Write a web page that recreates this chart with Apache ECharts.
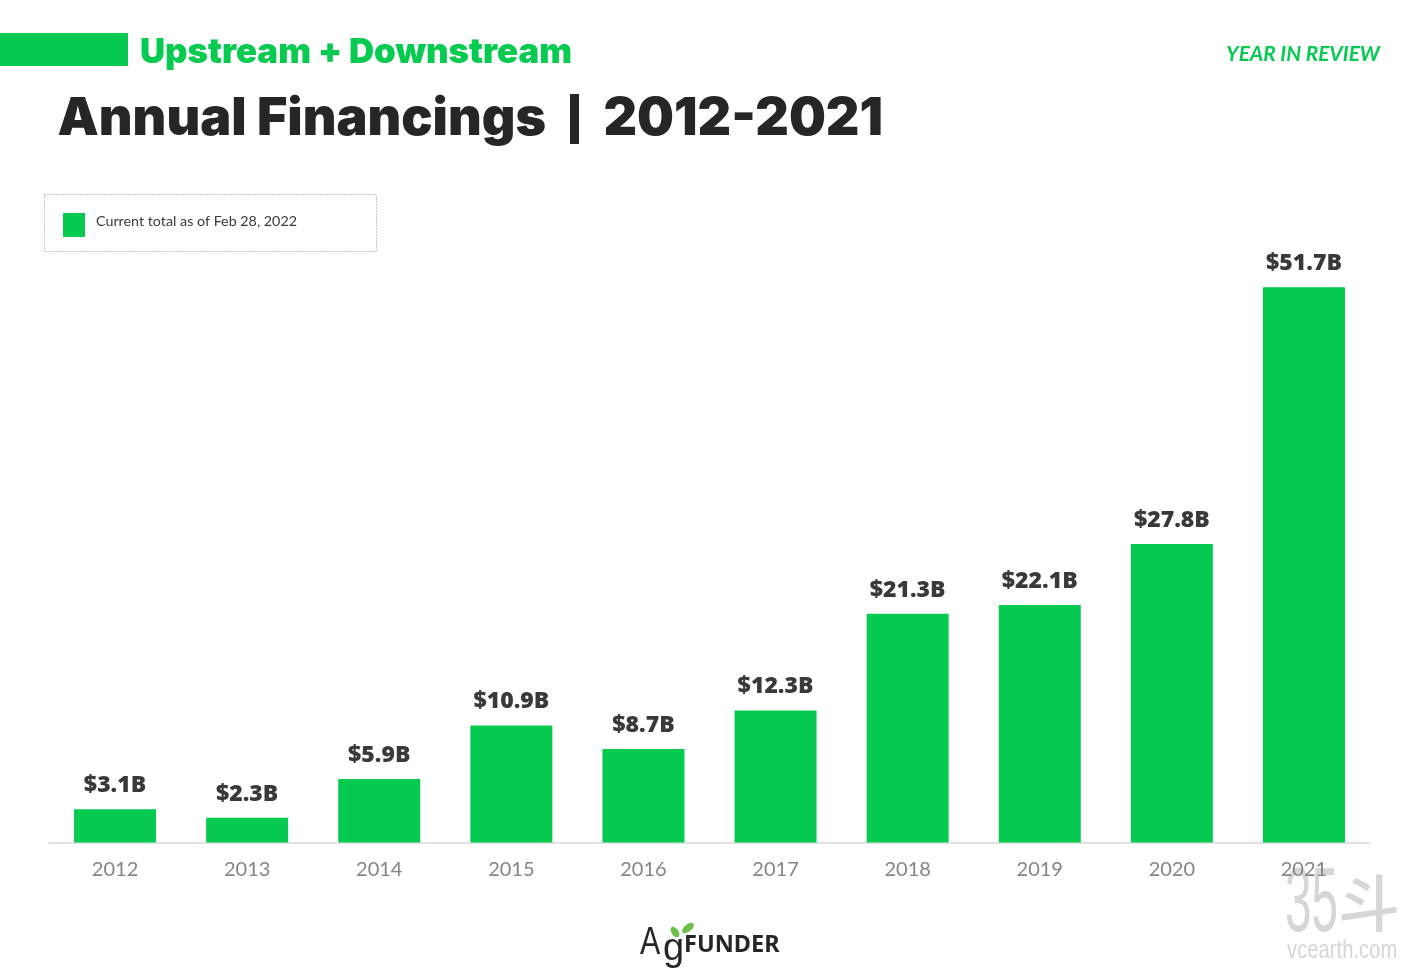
<!DOCTYPE html>
<html><head><meta charset="utf-8">
<style>html,body{margin:0;padding:0;background:#fff}#c{width:1415px;height:976px}</style>
<script src="https://cdn.jsdelivr.net/npm/echarts@6/dist/echarts.min.js"></script>
</head><body><div id="c"></div>
<script>
const categories = ['2012','2013','2014','2015','2016','2017','2018','2019','2020','2021'];
const financings = [3.1,2.3,5.9,10.9,8.7,12.3,21.3,22.1,27.8,51.7];
const GREEN = '#06CB50';
const chart = echarts.init(document.getElementById('c'), null, {renderer:'canvas', width:1415, height:976});
const txt = (x,y,text,font,fill,extra={},node={}) => Object.assign({type:'text',x,y,silent:true,style:Object.assign({text,font,fill,textVerticalAlign:'middle'},extra)},node);
chart.setOption({
  animation:false,
  backgroundColor:'#ffffff',
  grid:{left:49,width:1321,top:198,height:644.5,containLabel:false},
  xAxis:{type:'category',data:categories,
    axisLine:{lineStyle:{color:'#d9d9d9',width:1.5}},axisTick:{show:false},
    axisLabel:{color:'#858585',fontSize:20,fontFamily:'Lato',margin:17,fontWeight:400}},
  yAxis:{type:'value',min:0,max:60,show:false,splitLine:{show:false}},
  series:[{type:'bar',data:financings,barWidth:82,itemStyle:{color:GREEN},
    label:{show:true,position:'top',distance:12,formatter:p=>'$'+p.value.toFixed(1)+'B',
      color:'#3b3838',fontSize:23,fontWeight:800,fontFamily:'Open Sans'}}],
  graphic:[
    {type:'rect',shape:{x:0,y:33,width:128,height:33},style:{fill:GREEN},silent:true},
    txt(140,52.5,'Upstream + Downstream','900 34.8px Inter',GREEN),
    txt(57.5,119,'Annual Financings','900 52px Inter','#262626'),
    {type:'rect',shape:{x:570,y:94,width:9,height:50},style:{fill:'#262626'},silent:true},
    txt(883,119,'2012-2021','900 52px Inter','#262626',{textAlign:'right'}),
    txt(1380,54,'YEAR IN REVIEW','italic 700 20.8px Lato',GREEN,{textAlign:'right'}),
    {type:'rect',shape:{x:44.5,y:194.5,width:332,height:57},style:{fill:'none',stroke:'#8c8c8c',lineWidth:1,lineDash:[1,2]},silent:true},
    {type:'rect',shape:{x:63,y:213,width:22,height:24},style:{fill:GREEN},silent:true},
    txt(96,221.5,'Current total as of Feb 28, 2022','400 14.3px Lato','#3b3838'),
    txt(640,944,'A','500 38px "Liberation Sans"','#262626',{},{scaleX:0.8}),
    txt(663,950,'g','500 38px "Liberation Sans"','#262626'),
    {type:'ellipse',shape:{cx:675,cy:932,rx:3.5,ry:6},rotation:0.6,originX:675,originY:932,style:{fill:'#6cc04a'},silent:true},
    {type:'ellipse',shape:{cx:688,cy:928,rx:3.5,ry:7},rotation:-0.9,originX:688,originY:928,style:{fill:'#6cc04a'},silent:true},
    txt(684,945,'FUNDER','700 23.5px "Noto Sans"','#262626'),
    txt(1285,906,'35','400 90px "Liberation Sans"','#d6d6d6',{},{scaleX:0.53}),
    txt(1338,903,'斗','500 62px "Noto Sans CJK SC"','#d6d6d6'),
    txt(1287,951,'vcearth.com','400 25px "Liberation Sans"','#d6d6d6',{},{scaleX:0.81})
  ]
});
</script></body></html>
